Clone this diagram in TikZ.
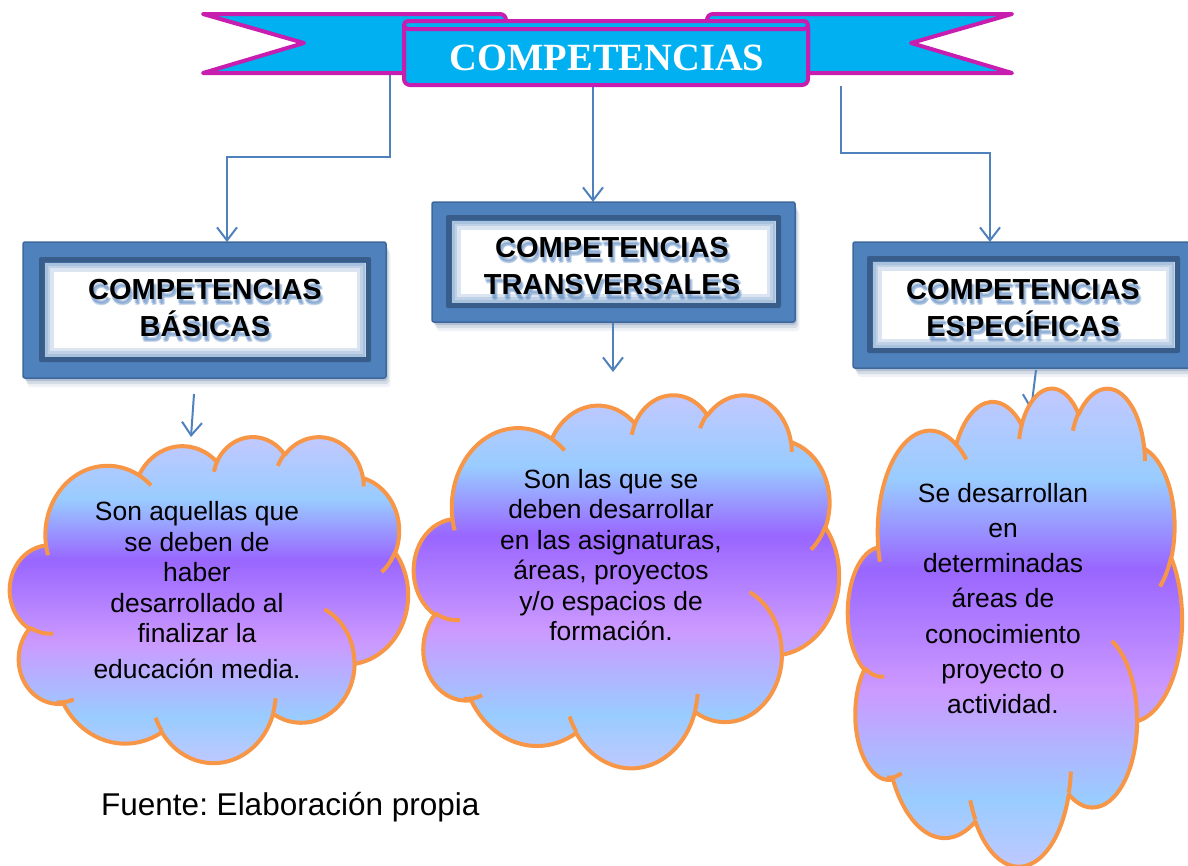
\documentclass[tikz,border=0pt]{standalone}
\usepackage{fontspec}
\setmainfont{Liberation Sans}
\newfontfamily\bannerfont{Liberation Serif}
\usetikzlibrary{arrows.meta,calc}
\frenchspacing
\definecolor{ribcyan}{RGB}{0,176,240}
\definecolor{ribmag}{RGB}{200,30,175}
\definecolor{conblue}{RGB}{79,129,189}
\definecolor{boxblue}{RGB}{79,129,189}
\definecolor{boxdark}{RGB}{56,93,138}
\definecolor{boxedge}{RGB}{62,104,155}
\definecolor{cloudorange}{RGB}{247,150,70}
\definecolor{clA}{RGB}{198,200,255}
\definecolor{clB}{RGB}{153,204,255}
\definecolor{clC}{RGB}{153,102,255}
\definecolor{clD}{RGB}{204,153,255}
\pgfdeclareverticalshading{cloudsh}{100bp}{color(0bp)=(clA); color(25bp)=(clA); color(33bp)=(clB); color(44bp)=(clD); color(56bp)=(clC); color(65bp)=(clB); color(75bp)=(clA); color(100bp)=(clA)}

\newcommand\cloudarc[4]{arc[start angle={pa(#3,#1,#2)},end angle={pa(#3+#4,#1,#2)},x radius=#1,y radius=#2]}

\newcommand\drawcloud[5]{%
  \begin{scope}[shift={(#2,#3)},xscale=#4,yscale=#5]
    \path[cloudline,shade,shading=cloudsh]
      (39.00,143.70)
      \cloudarc{67.53}{91.90}{-190.4875}{123.7805}
      \cloudarc{53.33}{72.67}{-144.1024}{89.9452}
      \cloudarc{43.65}{59.45}{-145.8079}{99.7230}
      \cloudarc{48.57}{65.95}{-130.9861}{117.2417}
      \cloudarc{53.33}{72.73}{-78.7089}{109.0269}
      \cloudarc{67.75}{92.20}{-46.2673}{130.2690}
      \cloudarc{57.85}{78.67}{0.6250}{114.0333}
      \cloudarc{67.52}{92.15}{22.4516}{115.1726}
      \cloudarc{77.20}{105.43}{66.2426}{75.7110}
      \cloudarc{43.60}{59.18}{-274.9421}{146.7356}
      \cloudarc{43.45}{59.45}{-246.8285}{152.5189}
      -- cycle;
    \path[cloudline]
      (46.93,261.77) \cloudarc{43.45}{59.45}{86.742}{26.4295}
      (69.28,348.99) \cloudarc{43.60}{59.18}{73.601}{18.794}
      (164.78,390.90) \cloudarc{67.52}{92.15}{137.6242}{14.0811}
      (288.27,347.51) \cloudarc{67.52}{92.15}{6.4533}{15.9984}
      (341.29,229.54) \cloudarc{57.85}{78.67}{-70.2924}{70.9174}
      (417.98,153.54) \cloudarc{53.33}{72.73}{30.3180}{27.7515}
      (383.24,54.26) \cloudarc{48.57}{65.95}{-13.7443}{14.8589}
      (290.78,39.52) \cloudarc{48.57}{65.95}{-149.1815}{18.1954}
      (221.41,47.20) \cloudarc{43.65}{59.45}{-163.4943}{17.6864}
      (140.00,51.92) \cloudarc{67.53}{91.90}{-66.7070}{12.3194}
      (41.27,157.89) \cloudarc{67.53}{91.90}{157.6544}{11.8582};
    \coordinate (#1) at (216,216);
  \end{scope}}

\newcommand\headbox[9]{%
  \foreach \sd/\so in {3/.22,6/.15,9/.08}{
    \fill[boxdark,opacity=\so,rounded corners=3] (#2+\sd/2,#3+\sd) rectangle (#4+\sd/2,#5+\sd);}
  \path[fill=boxblue,draw=boxedge,line width=1.5pt,rounded corners=2] (#2,#3) rectangle (#4,#5);
  \path[fill=boxdark,rounded corners=2] (#6,#7) rectangle (#8,#9);
  \path[fill=white] (#6+5.5,#7+5.5) rectangle (#8-5.5,#9-5.5);
  \begin{scope}
    \clip (#6+5.5,#7+5.5) rectangle (#8-5.5,#9-5.5);
    \foreach \lw in {18,11,6}{
      \draw[boxblue,opacity=.2,line width=\lw] (#6+5.5,#7+5.5) rectangle (#8-5.5,#9-5.5);}
  \end{scope}
  \coordinate (#1) at ($(#2,#3)!.5!(#4,#5)$);}

\begin{document}
\begin{tikzpicture}[x=1pt,y=-1pt,
  declare function={pa(\pa,\pb,\pc)=\pa+(atan2(\pb*sin(\pa),\pc*cos(\pa))-\pa)-360*round((atan2(\pb*sin(\pa),\pc*cos(\pa))-\pa)/360);},
  ribbon/.style={fill=ribcyan,draw=ribmag,line width=4pt,line join=round},
  conn/.style={draw=conblue,line width=2pt,-{Straight Barb[length=13pt,width=20pt]}},
  cloudline/.style={draw=cloudorange,line width=4pt,line join=round},
  headtxt/.style={font=\fontsize{29}{37}\selectfont\bfseries,align=center,inner sep=0pt},
  headshadow/.style={headtxt,text=boxblue,opacity=.3},
  cloudtxt/.style={font=\fontsize{26.4}{30.5}\selectfont,align=center,inner sep=0pt,text=black}]
\useasboundingbox (0,0) rectangle (1188,865);
\clip (0,0) rectangle (1188,865);

% connectors from banner
\coordinate (pL0) at (390,74);
\coordinate (pL1) at (390,157);
\coordinate (pL2) at (227,242);
\coordinate (pM0) at (593,86);
\coordinate (pM1) at (593,202);
\coordinate (pR0) at (841,86);
\coordinate (pR1) at (841,153);
\coordinate (pR2) at (990,242);
\draw[conn] (pL0) -- (pL1) -| (pL2);
\draw[conn] (pM0) -- (pM1);
\draw[conn] (pR0) -- (pR1) -| (pR2);

% banner
\path[ribbon] (404,73) -- (203,73) -- (304,43) -- (203,14) -- (500,14) to[out=0,in=90] (506,20) -- (506,28) -- (404,28) -- cycle;
\path[ribbon] (808,73) -- (1012,73) -- (911,43) -- (1012,14) -- (713,14) to[out=180,in=90] (707,20) -- (707,28) -- (808,28) -- cycle;
\path[ribbon,rounded corners=6] (404,21) rectangle (808,85);
\path[ribbon,rounded corners=4] (404,21) rectangle (808,29);
\node[text=white,font=\bannerfont\bfseries\fontsize{38.5}{40}\selectfont,inner sep=0pt] (banner) at (607,58) {COMPETENCIAS};

% boxes
\headbox{b1}{23}{242}{386}{378}{39}{257}{371}{362}
\headbox{b2}{432}{202}{795}{322}{446}{215}{781}{308}
\headbox{b3}{853}{242}{1195}{368}{867}{256}{1180}{353}

\foreach \sx/\sy in {1/4,2/6,3/5}{
  \node[headshadow] at (205+\sx,308.5+\sy) {COMPETENCIAS\\BÁSICAS};
  \node[headshadow] at (612+\sx,266.5+\sy) {COMPETENCIAS\\TRANSVERSALES};
  \node[headshadow] at (1023+\sx,308.5+\sy) {COMPETENCIAS\\ESPECÍFICAS};}
\node[headtxt] (h1) at (205,308.5) {COMPETENCIAS\\BÁSICAS};
\node[headtxt] (h2) at (612,266.5) {COMPETENCIAS\\TRANSVERSALES};
\node[headtxt] (h3) at (1023,308.5) {COMPETENCIAS\\ESPECÍFICAS};

% connectors from boxes to clouds
\coordinate (q1a) at (194,394);
\coordinate (q1b) at (191,437);
\coordinate (q2a) at (613,323);
\coordinate (q2b) at (613,372);
\coordinate (q3a) at (1036,370);
\coordinate (q3b) at (1031,410);
\draw[conn] (q1a) -- (q1b);
\draw[conn] (q2a) -- (q2b);
\draw[conn] (q3a) -- (q3b);

% clouds
\drawcloud{c1}{10}{436}{0.9213}{0.7546}
\drawcloud{c2}{414}{394}{0.9838}{0.8634}
\drawcloud{c3}{848}{387}{0.7731}{1.1065}

\node[cloudtxt] (t1) at (197,590.5) {Son aquellas que\\se deben de\\haber\\desarrollado al\\finalizar la\\[5.5pt]educación media.};
\node[cloudtxt] (t2) at (611,555) {Son las que se\\deben desarrollar\\en las asignaturas,\\áreas, proyectos\\y/o espacios de\\formación.};
\node[cloudtxt,font=\fontsize{26.4}{35.3}\selectfont] (t3) at (1003,598.5) {Se desarrollan\\en\\determinadas\\áreas de\\conocimiento\\proyecto o\\actividad.};

\node[anchor=base west,font=\fontsize{31.5}{36}\selectfont,inner sep=0pt] (src) at (101,815) {Fuente: Elaboración propia};
\end{tikzpicture}
\end{document}
